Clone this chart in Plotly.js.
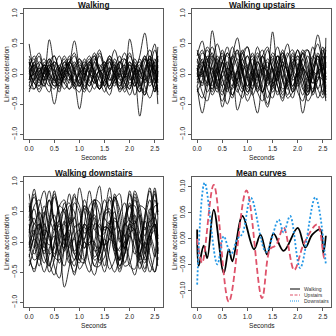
<!DOCTYPE html>
<html>
<head>
<meta charset="utf-8">
<script src="https://cdn.plot.ly/plotly-3.0.1.min.js"></script>
<style>
  html, body { margin: 0; padding: 0; background: #fff; }
  #chart { width: 336px; height: 336px; }
</style>
</head>
<body>
<div id="chart"></div>
<script>
/* ── sample times (s), shared by all single-trial curves ── */
const T = [0,0.1,0.2,0.3,0.4,0.5,0.6,0.7,0.8,0.9,1.0,1.1,1.2,1.3,1.4,1.5,1.6,1.7,1.8,1.9,2.0,2.1,2.2,2.3,2.4,2.5,2.56];

/* ── Walking trials ── */
const WALK = [
  [0.50,0.05,-0.10,0.20,0.05,-0.15,0.10,0.25,-0.05,-0.20,0.05,0.20,0.00,-0.15,0.10,0.20,-0.05,-0.20,0.05,0.15,-0.10,0.05,0.25,0.00,-0.15,0.20,0.30],
  [-0.20,0.10,0.30,0.00,0.57,0.10,-0.25,0.00,0.20,0.05,-0.20,0.10,0.25,-0.05,-0.25,0.10,0.30,0.05,-0.20,0.00,0.15,-0.10,-0.30,0.10,0.25,0.00,-0.30],
  [0.10,-0.25,-0.05,0.15,-0.10,-0.50,-0.10,0.20,0.00,-0.15,-0.58,-0.10,0.15,0.05,-0.25,-0.10,0.20,0.00,-0.15,-0.05,0.20,0.05,-0.25,0.00,0.20,-0.10,-0.20],
  [0.00,0.20,-0.05,-0.20,0.10,0.30,0.05,-0.10,0.15,0.55,0.10,-0.20,-0.05,0.20,0.40,0.05,-0.20,0.10,0.30,-0.05,-0.25,0.10,0.20,-0.10,0.00,0.25,0.10],
  [-0.25,-0.10,0.15,0.25,0.00,-0.20,-0.05,0.20,0.10,-0.25,-0.10,0.15,0.30,0.00,-0.20,0.00,0.25,0.10,-0.30,-0.10,0.58,0.10,-0.70,-0.10,0.30,0.10,-0.35],
  [0.20,0.00,-0.20,0.05,0.25,0.10,-0.15,-0.05,0.20,0.05,-0.15,-0.30,0.00,0.25,0.10,-0.20,-0.35,0.00,0.20,0.10,-0.20,0.00,0.30,0.68,0.10,-0.30,0.00],
  [-0.10,0.15,0.05,-0.10,0.00,0.20,0.10,-0.15,-0.25,0.00,0.15,0.05,-0.10,-0.25,0.00,0.20,0.05,-0.15,0.00,0.25,0.05,-0.35,-0.10,0.20,0.40,0.05,-0.50],
  [0.05,-0.15,-0.25,0.00,0.15,-0.05,-0.20,0.00,0.30,0.10,-0.15,0.00,0.20,0.05,-0.10,-0.30,0.00,0.25,0.05,-0.15,-0.25,0.05,0.15,-0.05,-0.20,0.00,0.45],
  [0.15,0.25,0.00,-0.10,0.15,0.05,-0.10,0.10,0.25,0.00,-0.20,-0.05,0.15,0.35,0.05,-0.15,0.05,0.20,-0.05,-0.30,-0.05,0.25,0.05,-0.15,0.10,0.40,0.20],
  [-0.05,0.00,0.10,-0.05,-0.20,0.00,0.15,0.00,-0.10,0.10,0.20,-0.05,-0.20,0.00,0.15,0.05,-0.10,0.05,0.20,0.00,-0.15,-0.05,0.10,0.25,-0.05,-0.25,0.05],
  [0.25,-0.05,-0.30,-0.10,0.20,0.30,0.00,-0.25,-0.10,0.15,0.25,0.00,-0.20,0.10,0.30,0.05,-0.25,-0.10,0.15,0.35,0.05,-0.20,0.00,0.30,0.05,-0.30,0.15],
  [-0.15,0.05,0.20,0.10,-0.15,-0.25,0.05,0.30,0.10,-0.10,0.00,0.25,0.05,-0.15,-0.05,0.15,0.25,-0.05,-0.20,0.05,0.30,0.10,-0.15,-0.30,0.00,0.20,-0.15],
  [0.00,-0.10,0.05,0.15,0.00,-0.10,0.00,0.10,-0.05,-0.15,0.00,0.10,0.00,-0.05,0.05,-0.10,-0.20,0.00,0.10,-0.05,0.00,0.15,-0.05,-0.10,0.15,0.05,-0.10],
  [0.30,0.10,-0.15,0.05,0.25,-0.05,-0.30,0.05,0.20,0.35,0.00,-0.25,0.05,0.30,0.00,-0.20,0.10,0.40,0.10,-0.25,0.05,0.20,-0.10,-0.35,0.20,0.50,0.00],
  [-0.30,-0.05,0.10,-0.15,-0.30,-0.05,0.10,-0.05,-0.25,-0.15,0.05,-0.10,-0.30,-0.10,0.05,-0.05,-0.25,-0.10,0.00,-0.15,-0.35,-0.10,0.05,-0.20,-0.40,-0.15,0.05],
  [0.10,0.30,0.15,-0.05,0.10,0.20,0.05,-0.05,0.15,0.30,0.10,0.00,0.20,0.30,0.05,0.10,0.30,0.15,-0.05,0.15,0.35,0.10,0.05,0.25,0.15,0.00,0.30],
  [-0.20,-0.25,0.00,0.15,-0.05,-0.20,-0.15,0.05,0.00,-0.20,-0.30,-0.05,0.10,-0.10,-0.25,-0.10,0.10,0.00,-0.25,-0.20,0.05,0.10,-0.20,-0.35,-0.05,0.15,-0.05],
  [0.05,0.15,-0.10,-0.20,0.05,0.15,-0.05,-0.15,0.05,0.20,-0.05,-0.25,0.00,0.20,0.00,-0.20,0.05,0.15,-0.10,-0.05,0.15,0.00,-0.20,0.05,0.30,-0.10,-0.25],
  [-0.10,0.20,0.35,0.05,-0.10,0.10,0.30,0.05,-0.15,0.05,0.25,0.10,-0.15,0.00,0.35,0.15,-0.10,-0.05,0.20,0.25,-0.05,-0.20,0.10,0.30,0.00,-0.15,0.25],
  [0.20,-0.15,-0.20,0.10,0.20,-0.10,-0.20,0.15,0.15,-0.15,-0.20,0.10,0.20,-0.10,-0.25,0.10,0.20,-0.10,-0.25,0.05,0.20,-0.15,-0.30,0.05,0.25,-0.20,-0.30]
];

/* ── Walking upstairs trials ── */
const UP = [
  [0.30,0.55,0.10,-0.30,0.00,0.40,0.10,-0.35,-0.10,0.35,0.45,0.00,-0.30,0.10,0.40,0.05,-0.35,-0.10,0.30,0.40,-0.05,-0.35,0.00,0.45,0.10,-0.30,0.20],
  [-0.20,-0.65,-0.20,0.72,0.20,-0.30,-0.10,0.30,0.10,-0.25,0.00,0.35,0.05,-0.30,-0.05,0.30,0.10,-0.25,-0.10,0.25,0.15,-0.20,-0.35,0.10,0.30,0.00,-0.25],
  [0.10,-0.20,0.20,0.45,0.10,-0.55,-0.20,0.25,0.40,0.00,-0.30,-0.10,0.20,0.00,-0.40,-0.10,0.30,0.20,-0.20,-0.40,0.00,0.35,0.10,-0.30,0.05,0.40,0.00],
  [0.00,0.35,0.25,-0.10,-0.30,0.05,0.35,0.10,-0.60,-0.30,0.10,0.30,0.00,-0.30,-0.55,-0.10,0.30,0.10,-0.20,0.10,0.40,0.05,-0.30,0.00,0.30,-0.10,-0.45],
  [-0.10,0.10,0.40,0.20,-0.15,-0.35,0.00,0.30,0.60,0.10,-0.30,-0.10,0.25,0.40,0.10,0.70,0.00,-0.35,-0.10,0.20,0.30,-0.10,-0.30,0.20,0.65,0.20,-0.20],
  [0.20,0.00,-0.30,-0.10,0.30,0.10,-0.20,-0.40,0.00,0.40,0.10,-0.30,-0.65,-0.10,0.25,0.10,-0.20,-0.45,0.00,0.35,-0.10,-0.65,-0.20,0.30,0.10,-0.35,0.60],
  [-0.30,-0.10,0.20,0.35,0.00,-0.20,0.10,0.45,0.20,-0.20,-0.35,0.00,0.30,0.10,-0.25,-0.40,0.00,0.35,0.15,-0.30,-0.10,0.25,0.40,0.00,-0.40,-0.15,0.30],
  [0.05,0.25,-0.05,-0.25,0.10,0.30,0.00,-0.20,0.05,0.25,-0.05,-0.25,0.00,0.30,0.05,-0.20,0.05,0.30,0.00,-0.25,0.05,0.25,-0.05,-0.30,0.05,0.30,-0.10],
  [0.40,0.10,-0.15,0.20,0.50,0.20,-0.10,0.15,0.40,0.05,-0.20,0.10,0.35,0.15,-0.10,0.20,0.45,0.10,-0.15,0.15,0.40,0.10,-0.10,0.25,0.50,0.15,-0.05],
  [-0.25,-0.40,-0.10,0.10,-0.20,-0.45,-0.15,0.05,-0.25,-0.40,-0.10,0.05,-0.30,-0.45,-0.10,0.10,-0.20,-0.40,-0.15,0.00,-0.30,-0.45,-0.10,0.05,-0.25,-0.40,-0.20],
  [0.15,-0.05,0.30,0.10,-0.20,0.05,0.35,0.15,-0.15,-0.30,0.05,0.25,-0.05,-0.30,0.00,0.35,0.20,-0.10,-0.35,-0.05,0.30,0.15,-0.20,-0.05,0.35,0.05,-0.30],
  [-0.05,0.20,0.00,-0.35,-0.15,0.20,0.30,-0.05,-0.30,0.00,0.30,0.10,-0.20,-0.30,0.05,0.25,-0.05,-0.30,0.00,0.30,0.05,-0.25,-0.35,0.00,0.25,-0.05,-0.35],
  [0.25,0.05,-0.20,0.00,0.25,-0.05,-0.30,0.05,0.25,0.10,-0.20,-0.05,0.20,0.00,-0.20,0.10,0.30,-0.05,-0.25,0.05,0.25,0.00,-0.25,0.10,0.30,0.00,-0.15],
  [-0.15,0.10,0.25,-0.05,-0.25,0.05,0.20,-0.10,-0.20,0.15,0.30,-0.05,-0.25,0.05,0.20,-0.15,-0.30,0.10,0.35,0.05,-0.20,0.05,0.30,0.00,-0.25,0.10,0.40],
  [0.00,-0.15,0.05,0.30,0.15,-0.10,-0.25,0.10,0.35,0.00,-0.25,0.10,0.45,0.15,-0.15,-0.10,0.20,0.35,0.00,-0.20,0.10,0.40,0.20,-0.15,-0.10,0.25,0.35],
  [0.35,0.20,-0.05,-0.25,0.00,0.20,-0.05,-0.35,-0.10,0.15,-0.05,-0.35,-0.15,0.15,0.00,-0.30,-0.10,0.20,0.05,-0.30,-0.15,0.10,-0.05,-0.35,-0.10,0.15,-0.10],
  [-0.20,0.05,0.45,0.30,0.00,0.20,0.45,0.10,-0.10,0.25,0.45,0.10,-0.05,0.30,0.45,0.05,-0.10,0.25,0.50,0.10,-0.05,0.35,0.40,0.05,0.00,0.35,0.45],
  [0.10,-0.30,-0.45,-0.10,0.10,-0.20,-0.50,-0.20,0.05,-0.15,-0.45,-0.25,0.00,-0.20,-0.50,-0.20,0.05,-0.10,-0.40,-0.30,0.00,-0.10,-0.45,-0.30,-0.05,-0.10,-0.40],
  [-0.05,0.00,0.15,0.05,-0.10,-0.05,0.10,0.00,-0.15,0.05,0.15,-0.05,-0.10,0.10,0.05,-0.15,-0.05,0.15,0.05,-0.10,0.00,0.10,-0.05,-0.15,0.05,0.10,-0.05],
  [0.20,0.40,0.05,-0.20,0.15,0.35,-0.05,-0.25,0.10,0.35,0.05,-0.20,0.15,0.30,-0.05,-0.25,0.10,0.40,0.10,-0.20,0.10,0.35,0.00,-0.25,0.15,0.45,0.10]
];

/* ── Walking downstairs trials ── */
const DOWN = [
  [0.80,0.20,-0.30,0.40,0.85,0.30,-0.20,0.30,0.80,0.20,-0.30,0.30,0.85,0.30,-0.20,0.40,0.90,0.20,-0.30,0.30,0.80,0.25,-0.25,0.40,0.85,0.20,-0.30],
  [0.40,0.88,0.30,-0.20,0.20,0.75,0.40,-0.15,0.10,0.65,0.50,-0.10,0.10,0.70,0.45,-0.15,0.15,0.80,0.40,-0.10,0.20,0.75,0.35,-0.20,0.25,0.85,0.40],
  [-0.20,-0.50,-0.10,0.50,0.20,-0.40,-0.60,-0.10,0.40,0.10,-0.45,-0.30,0.20,0.40,-0.20,-0.50,-0.10,0.40,0.20,-0.40,-0.35,0.15,0.45,-0.10,-0.50,-0.20,0.40],
  [0.10,0.60,0.70,0.10,-0.40,0.00,0.60,0.50,-0.20,-0.40,0.20,0.70,0.40,-0.30,-0.20,0.50,0.70,0.10,-0.40,-0.10,0.60,0.60,-0.10,-0.45,0.10,0.70,0.50],
  [-0.10,0.20,-0.20,-0.50,-0.20,0.30,0.00,-0.75,-0.40,0.10,0.20,-0.30,-0.50,0.00,0.30,-0.10,-0.45,-0.30,0.20,0.10,-0.40,-0.45,0.05,0.25,-0.20,-0.50,-0.10],
  [0.60,0.30,0.60,0.85,0.40,0.20,0.60,0.70,0.30,0.40,0.90,0.50,0.20,0.60,0.93,0.40,0.30,0.70,0.80,0.30,0.40,0.85,0.60,0.20,0.50,0.90,0.50],
  [0.00,-0.30,-0.20,0.20,0.10,-0.25,-0.30,0.10,0.20,-0.20,-0.35,0.05,0.25,-0.10,-0.30,-0.05,0.25,0.05,-0.30,-0.20,0.15,0.20,-0.20,-0.35,0.05,0.20,-0.15],
  [0.30,-0.10,0.20,0.60,0.20,-0.20,0.10,0.65,0.35,-0.15,0.00,0.55,0.45,-0.05,-0.10,0.50,0.55,0.00,-0.15,0.40,0.60,0.10,-0.20,0.35,0.70,0.15,-0.10],
  [-0.40,-0.10,0.30,0.00,-0.50,-0.30,0.20,0.30,-0.20,-0.55,-0.10,0.30,0.10,-0.40,-0.40,0.10,0.35,-0.10,-0.50,-0.20,0.25,0.20,-0.30,-0.50,0.00,0.30,-0.05],
  [0.20,0.40,0.00,-0.15,0.25,0.45,0.05,-0.10,0.30,0.40,0.00,-0.10,0.35,0.45,0.00,-0.05,0.30,0.50,0.05,-0.10,0.30,0.45,0.00,-0.05,0.35,0.40,0.05],
  [-0.15,0.10,0.50,0.30,-0.20,-0.10,0.40,0.55,0.00,-0.30,0.10,0.60,0.30,-0.25,-0.10,0.45,0.50,-0.05,-0.30,0.20,0.65,0.20,-0.30,0.00,0.55,0.45,-0.20],
  [0.50,0.75,0.40,0.10,0.40,0.80,0.50,0.10,0.30,0.75,0.60,0.15,0.25,0.70,0.65,0.20,0.30,0.75,0.55,0.10,0.35,0.80,0.50,0.10,0.40,0.80,0.45],
  [-0.30,-0.45,-0.20,0.00,-0.35,-0.55,-0.15,0.05,-0.30,-0.50,-0.20,0.00,-0.35,-0.55,-0.20,0.05,-0.30,-0.50,-0.25,0.00,-0.30,-0.55,-0.20,0.00,-0.35,-0.50,-0.25],
  [0.10,-0.20,0.00,0.30,0.05,-0.25,0.00,0.35,0.10,-0.20,-0.05,0.30,0.15,-0.15,-0.10,0.25,0.20,-0.15,-0.10,0.30,0.20,-0.20,-0.05,0.35,0.10,-0.25,0.00],
  [0.65,0.00,-0.40,0.10,0.70,0.30,-0.35,-0.10,0.60,0.50,-0.20,-0.30,0.40,0.65,0.00,-0.40,0.20,0.75,0.20,-0.35,0.00,0.70,0.40,-0.30,-0.10,0.60,0.60],
  [-0.05,0.30,0.15,-0.25,-0.40,0.00,0.30,0.05,-0.35,-0.30,0.10,0.25,-0.10,-0.40,-0.15,0.25,0.20,-0.20,-0.45,0.00,0.30,0.05,-0.35,-0.25,0.15,0.30,-0.20],
  [0.35,0.55,0.20,0.45,0.70,0.35,0.25,0.55,0.65,0.25,0.30,0.60,0.50,0.20,0.40,0.70,0.45,0.20,0.45,0.65,0.35,0.30,0.60,0.55,0.25,0.40,0.65],
  [-0.25,0.05,-0.10,-0.35,-0.10,0.10,-0.20,-0.40,-0.05,0.05,-0.30,-0.35,0.00,0.00,-0.35,-0.25,0.05,-0.05,-0.40,-0.20,0.10,-0.10,-0.45,-0.15,0.10,-0.15,-0.40],
  [0.15,0.80,0.50,-0.10,0.30,0.85,0.40,-0.05,0.45,0.80,0.20,0.05,0.60,0.70,0.10,0.15,0.75,0.55,0.00,0.30,0.85,0.40,0.00,0.45,0.90,0.30,0.05],
  [0.00,0.15,0.30,0.10,-0.05,0.20,0.35,0.05,-0.10,0.25,0.30,0.00,-0.05,0.30,0.25,-0.05,0.05,0.35,0.20,-0.10,0.10,0.35,0.15,-0.10,0.15,0.30,0.10]
];

/* ── Mean curves (knots) ── */
const MEAN_NAMES = ['Walking', 'Upstairs', 'Downstairs'];
const MW_T = [0,0.03,0.13,0.2,0.33,0.53,0.63,0.7,0.9,1.13,1.26,1.39,1.52,1.72,2.0,2.15,2.29,2.45,2.51,2.56];
const MW_V = [0.018,-0.052,-0.013,-0.037,0.056,-0.066,-0.02,-0.043,0.044,-0.02,0.008,-0.03,0.01,-0.023,0.021,-0.017,0.008,0.018,-0.027,0.006];
const MU_T = [0,0.1,0.33,0.63,0.98,1.29,1.45,1.57,1.72,1.93,2.12,2.39,2.53,2.56];
const MU_V = [0.0,-0.046,0.104,-0.121,0.093,-0.114,-0.02,-0.012,0.022,-0.06,-0.01,0.028,-0.037,-0.03];
const MD_T = [0,0.15,0.4,0.53,0.67,0.8,0.9,1.07,1.37,1.62,1.72,1.85,2.05,2.35,2.56];
const MD_V = [-0.088,0.108,-0.049,0.005,-0.03,0.0,0.01,0.079,-0.025,0.037,0.012,0.044,-0.056,0.08,-0.049];

const TITLES = ['Walking', 'Walking upstairs', 'Walking downstairs', 'Mean curves'];

/* ── layout helpers (pixel -> paper) ── */
const W = 336, H = 336;
const px = x => x / W;
const py = y => 1 - y / H;
const FONT = 'Liberation Sans, Arial, Helvetica, sans-serif';

// plot boxes: [left, right, top, bottom] in px
const BOX = [[24,163,9,139],[192,331,9,139],[24,163,177,307],[192,331,177,307]];

const axBase = {
  showline: true, mirror: true, linecolor: '#5a5a5a', linewidth: 1,
  ticks: 'outside', ticklen: 3, tickcolor: '#5a5a5a', tickwidth: 1,
  showgrid: false, zeroline: false, fixedrange: true,
  tickfont: { family: FONT, size: 6.6, color: '#222' }
};

const traces = [];
[WALK, UP, DOWN].forEach((set, p) => {
  const sfx = p === 0 ? '' : String(p + 1);
  set.forEach(y => traces.push({
    x: T, y: y, xaxis: 'x' + sfx, yaxis: 'y' + sfx,
    type: 'scatter', mode: 'lines', hoverinfo: 'skip', showlegend: false,
    line: { color: '#000', width: 0.8, shape: 'spline', smoothing: 1 }
  }));
});

const MEAN_STYLE = [
  { color: '#000000', width: 1.8, dash: 'solid' },
  { color: '#DF536B', width: 1.8, dash: '6px,3px' },
  { color: '#2297E6', width: 1.8, dash: '2px,2px' }
];
[[MW_T, MW_V], [MU_T, MU_V], [MD_T, MD_V]].forEach(([t, v], i) => traces.push({
  x: t, y: v, xaxis: 'x4', yaxis: 'y4', name: MEAN_NAMES[i],
  type: 'scatter', mode: 'lines', hoverinfo: 'skip', showlegend: false,
  line: { ...MEAN_STYLE[i], shape: 'spline', smoothing: 1 }
}));

const layout = {
  width: W, height: H, margin: { l: 0, r: 0, t: 0, b: 0 },
  paper_bgcolor: '#fff', plot_bgcolor: '#fff', showlegend: false,
  font: { family: FONT, color: '#222' },
  annotations: [], shapes: []
};

BOX.forEach((b, i) => {
  const sfx = i === 0 ? '' : String(i + 1);
  const isMean = i === 3;
  layout['xaxis' + sfx] = {
    ...axBase, domain: [px(b[0]), px(b[1])], anchor: 'y' + sfx,
    range: [-0.1024, 2.6624], tickvals: [0,0.5,1,1.5,2,2.5], tickformat: '.1f'
  };
  layout['yaxis' + sfx] = {
    ...axBase, domain: [py(b[3]), py(b[2])], anchor: 'x' + sfx, tickangle: -90,
    range: isMean ? [-0.131, 0.119] : [-1.08, 1.08],
    tickvals: isMean ? [-0.1,-0.05,0,0.05,0.1] : [-1,-0.5,0,0.5,1],
    tickformat: isMean ? '.2f' : '.1f'
  };
  const cx = (b[0] + b[1]) / 2;
  layout.annotations.push(
    { text: '<b>' + TITLES[i] + '</b>', x: px(cx), y: py(b[2] - 4), xref: 'paper', yref: 'paper',
      showarrow: false, xanchor: 'center', yanchor: 'middle', font: { size: 8.3, family: FONT, color: '#111' } },
    { text: 'Seconds', x: px(cx), y: py(b[3] + 18), xref: 'paper', yref: 'paper',
      showarrow: false, xanchor: 'center', yanchor: 'middle', font: { size: 6.6, family: FONT, color: '#222' } },
    { text: 'Linear acceleration', x: px(b[0] - 18), y: py((b[2] + b[3]) / 2), xref: 'paper', yref: 'paper',
      showarrow: false, textangle: -90, xanchor: 'center', yanchor: 'middle', font: { size: 6.6, family: FONT, color: '#222' } }
  );
});

/* legend of the mean panel */
MEAN_NAMES.forEach((name, i) => {
  const yy = 289 + i * 6;
  layout.shapes.push({
    type: 'line', xref: 'paper', yref: 'paper', x0: px(290), x1: px(300), y0: py(yy), y1: py(yy),
    line: { color: MEAN_STYLE[i].color, width: 1, dash: i === 0 ? 'solid' : (i === 1 ? '3px,1.5px' : '1px,1px') }
  });
  layout.annotations.push({
    text: name, x: px(302), y: py(yy), xref: 'paper', yref: 'paper', showarrow: false,
    xanchor: 'left', yanchor: 'middle', font: { size: 5, family: FONT, color: '#333' }
  });
});

Plotly.newPlot('chart', traces, layout, { staticPlot: true, displayModeBar: false });
</script>
</body>
</html>
